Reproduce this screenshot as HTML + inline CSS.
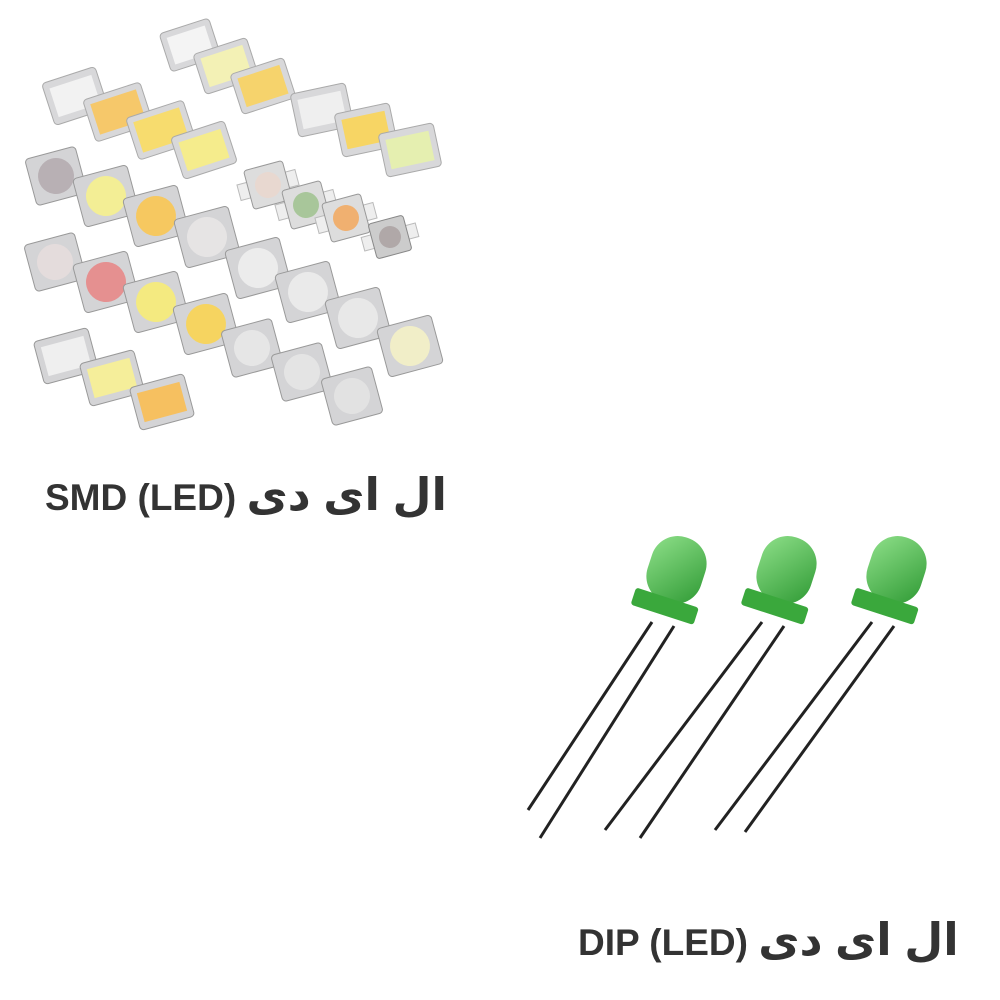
<!DOCTYPE html>
<html><head><meta charset="utf-8"><style>
html,body{margin:0;padding:0;background:#fff;width:1000px;height:1000px;overflow:hidden}
.t{position:absolute;font-family:"Liberation Sans","DejaVu Sans",sans-serif;font-weight:bold;font-size:37px;color:#333;white-space:nowrap}
.t span{font-size:45px}
</style></head><body>
<svg width="1000" height="1000" style="position:absolute;left:0;top:0">
<defs>
<linearGradient id="g" x1="0" y1="0" x2="1" y2="1"><stop offset="0" stop-color="#8fe08a"/><stop offset="1" stop-color="#2f9a34"/></linearGradient>
</defs>
<g id="chips">
<g transform="translate(190,45) rotate(-18)"><rect x="-26" y="-20" width="52" height="40" rx="4" fill="#d8d8da" stroke="#aaa"/><rect x="-20" y="-14" width="40" height="28" fill="#f4f4f4"/></g>
<g transform="translate(226,66) rotate(-18)"><rect x="-28" y="-21" width="56" height="42" rx="4" fill="#d8d8da" stroke="#aaa"/><rect x="-22" y="-15" width="44" height="30" fill="#f3f1b5"/></g>
<g transform="translate(263,86) rotate(-18)"><rect x="-28" y="-21" width="56" height="42" rx="4" fill="#d8d8da" stroke="#aaa"/><rect x="-22" y="-15" width="44" height="30" fill="#f6d36c"/></g>
<g transform="translate(75,96) rotate(-18)"><rect x="-28" y="-22" width="56" height="44" rx="4" fill="#d8d8da" stroke="#aaa"/><rect x="-22" y="-15" width="44" height="30" fill="#f2f2f2"/></g>
<g transform="translate(118,112) rotate(-18)"><rect x="-30" y="-22" width="60" height="44" rx="4" fill="#d8d8da" stroke="#aaa"/><rect x="-24" y="-16" width="48" height="32" fill="#f6c86a"/></g>
<g transform="translate(161,130) rotate(-18)"><rect x="-30" y="-22" width="60" height="44" rx="4" fill="#d8d8da" stroke="#aaa"/><rect x="-24" y="-16" width="48" height="32" fill="#f7dc6e"/></g>
<g transform="translate(204,150) rotate(-18)"><rect x="-28" y="-22" width="56" height="44" rx="4" fill="#d8d8da" stroke="#aaa"/><rect x="-22" y="-15" width="44" height="30" fill="#f5ec8c"/></g>
<g transform="translate(322,110) rotate(-12)"><rect x="-28" y="-22" width="56" height="44" rx="4" fill="#d8d8da" stroke="#aaa"/><rect x="-22" y="-15" width="44" height="30" fill="#efefef"/></g>
<g transform="translate(366,130) rotate(-12)"><rect x="-28" y="-22" width="56" height="44" rx="4" fill="#d8d8da" stroke="#aaa"/><rect x="-22" y="-15" width="44" height="30" fill="#f7d564"/></g>
<g transform="translate(410,150) rotate(-12)"><rect x="-28" y="-22" width="56" height="44" rx="4" fill="#d8d8da" stroke="#aaa"/><rect x="-22" y="-15" width="44" height="30" fill="#e5efb0"/></g>
<g transform="translate(56,176) rotate(-15)"><rect x="-26" y="-24" width="52" height="48" rx="4" fill="#d4d4d6" stroke="#999"/><circle r="18" fill="#b8b0b4"/></g>
<g transform="translate(106,196) rotate(-15)"><rect x="-28" y="-25" width="56" height="50" rx="4" fill="#d4d4d6" stroke="#999"/><circle r="20" fill="#f3ee95"/></g>
<g transform="translate(156,216) rotate(-15)"><rect x="-28" y="-25" width="56" height="50" rx="4" fill="#d4d4d6" stroke="#999"/><circle r="20" fill="#f6c860"/></g>
<g transform="translate(207,237) rotate(-15)"><rect x="-28" y="-25" width="56" height="50" rx="4" fill="#d4d4d6" stroke="#999"/><circle r="20" fill="#e6e4e4"/></g>
<g transform="translate(268,185) rotate(-15)"><rect x="-30" y="-8" width="60" height="16" fill="#eee" stroke="#bbb"/><rect x="-20" y="-20" width="40" height="40" rx="3" fill="#ddd" stroke="#999"/><circle r="13" fill="#e8d8d0"/></g>
<g transform="translate(306,205) rotate(-15)"><rect x="-30" y="-8" width="60" height="16" fill="#eee" stroke="#bbb"/><rect x="-20" y="-20" width="40" height="40" rx="3" fill="#ddd" stroke="#999"/><circle r="13" fill="#a8c69a"/></g>
<g transform="translate(346,218) rotate(-15)"><rect x="-30" y="-8" width="60" height="16" fill="#eee" stroke="#bbb"/><rect x="-20" y="-20" width="40" height="40" rx="3" fill="#ddd" stroke="#999"/><circle r="13" fill="#f0b070"/></g>
<g transform="translate(390,237) rotate(-15)"><rect x="-28" y="-7" width="56" height="14" fill="#eee" stroke="#bbb"/><rect x="-18" y="-18" width="36" height="36" rx="3" fill="#ccc" stroke="#888"/><circle r="11" fill="#b0a8a8"/></g>
<g transform="translate(55,262) rotate(-15)"><rect x="-26" y="-24" width="52" height="48" rx="4" fill="#d4d4d6" stroke="#999"/><circle r="18" fill="#e4dcdc"/></g>
<g transform="translate(106,282) rotate(-15)"><rect x="-28" y="-25" width="56" height="50" rx="4" fill="#d4d4d6" stroke="#999"/><circle r="20" fill="#e59090"/></g>
<g transform="translate(156,302) rotate(-15)"><rect x="-28" y="-25" width="56" height="50" rx="4" fill="#d4d4d6" stroke="#999"/><circle r="20" fill="#f4ea80"/></g>
<g transform="translate(206,324) rotate(-15)"><rect x="-28" y="-25" width="56" height="50" rx="4" fill="#d4d4d6" stroke="#999"/><circle r="20" fill="#f6d460"/></g>
<g transform="translate(258,268) rotate(-15)"><rect x="-28" y="-25" width="56" height="50" rx="4" fill="#d4d4d6" stroke="#999"/><circle r="20" fill="#ececec"/></g>
<g transform="translate(308,292) rotate(-15)"><rect x="-28" y="-25" width="56" height="50" rx="4" fill="#d4d4d6" stroke="#999"/><circle r="20" fill="#eaeaea"/></g>
<g transform="translate(358,318) rotate(-15)"><rect x="-28" y="-25" width="56" height="50" rx="4" fill="#d4d4d6" stroke="#999"/><circle r="20" fill="#e8e8e8"/></g>
<g transform="translate(410,346) rotate(-15)"><rect x="-28" y="-25" width="56" height="50" rx="4" fill="#d4d4d6" stroke="#999"/><circle r="20" fill="#f1eec8"/></g>
<g transform="translate(66,356) rotate(-15)"><rect x="-28" y="-22" width="56" height="44" rx="4" fill="#d4d4d6" stroke="#999"/><rect x="-22" y="-15" width="44" height="30" fill="#efefef"/></g>
<g transform="translate(112,378) rotate(-15)"><rect x="-28" y="-22" width="56" height="44" rx="4" fill="#d4d4d6" stroke="#999"/><rect x="-22" y="-15" width="44" height="30" fill="#f5ee9a"/></g>
<g transform="translate(162,402) rotate(-15)"><rect x="-28" y="-22" width="56" height="44" rx="4" fill="#d4d4d6" stroke="#999"/><rect x="-22" y="-15" width="44" height="30" fill="#f6c060"/></g>
<g transform="translate(252,348) rotate(-15)"><rect x="-26" y="-24" width="52" height="48" rx="4" fill="#d4d4d6" stroke="#999"/><circle r="18" fill="#e6e6e6"/></g>
<g transform="translate(302,372) rotate(-15)"><rect x="-26" y="-24" width="52" height="48" rx="4" fill="#d4d4d6" stroke="#999"/><circle r="18" fill="#e4e4e4"/></g>
<g transform="translate(352,396) rotate(-15)"><rect x="-26" y="-24" width="52" height="48" rx="4" fill="#d4d4d6" stroke="#999"/><circle r="18" fill="#e2e2e2"/></g>
</g>
<g stroke="#222" stroke-width="3" fill="none">
<line x1="652" y1="622" x2="528" y2="810"/><line x1="674" y1="626" x2="540" y2="838"/>
<line x1="762" y1="622" x2="605" y2="830"/><line x1="784" y1="626" x2="640" y2="838"/>
<line x1="872" y1="622" x2="715" y2="830"/><line x1="894" y1="626" x2="745" y2="832"/>
</g>
<g transform="translate(670,590) rotate(18)"><rect x="-28" y="-55" width="56" height="68" rx="27" fill="url(#g)"/><rect x="-33" y="8" width="66" height="18" rx="3" fill="#3aa83c"/></g>
<g transform="translate(780,590) rotate(18)"><rect x="-28" y="-55" width="56" height="68" rx="27" fill="url(#g)"/><rect x="-33" y="8" width="66" height="18" rx="3" fill="#3aa83c"/></g>
<g transform="translate(890,590) rotate(18)"><rect x="-28" y="-55" width="56" height="68" rx="27" fill="url(#g)"/><rect x="-33" y="8" width="66" height="18" rx="3" fill="#3aa83c"/></g>
</svg>
<div class="t" style="left:45px;top:468px" dir="ltr">SMD (LED) <span dir="rtl">ال ای دی</span></div>
<div class="t" style="left:578px;top:913px" dir="ltr">DIP (LED) <span dir="rtl">ال ای دی</span></div>
</body></html>
